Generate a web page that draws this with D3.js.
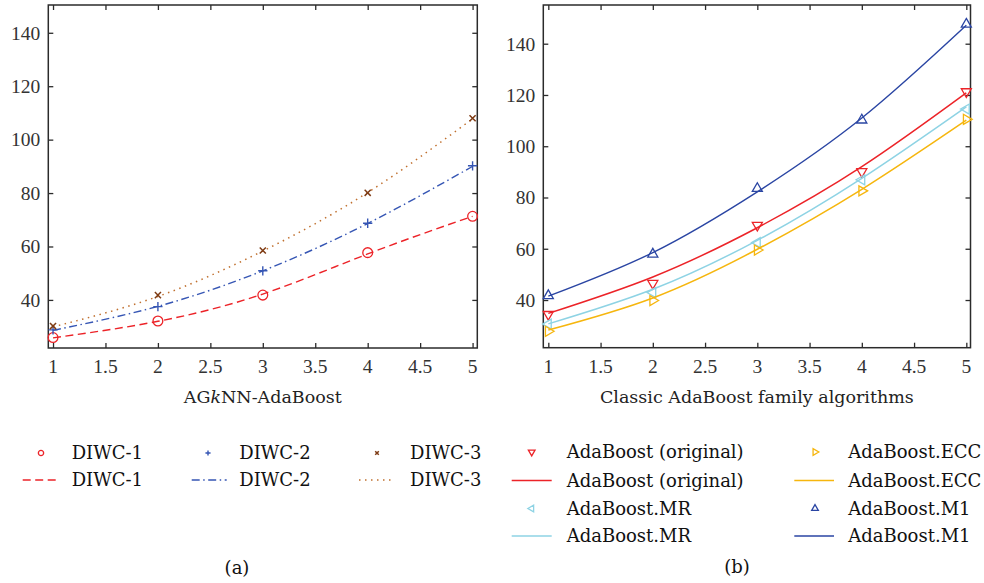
<!DOCTYPE html>
<html>
<head>
<meta charset="utf-8">
<script src="https://cdn.jsdelivr.net/npm/d3@7"></script>
<style>
  html, body { margin: 0; padding: 0; background: #fff; }
  svg { display: block; }
  .title { font-family: "DejaVu Serif", serif; font-size: 17.5px; fill: #222; }
  .legend { font-family: "DejaVu Serif", serif; font-size: 18px; fill: #111; }
</style>
</head>
<body>
<svg id="chart" width="984" height="583"></svg>
<script>
// x positions shared by both panels
const xs = [1, 2, 3, 4, 5];
const xTicks = [1, 1.5, 2, 2.5, 3, 3.5, 4, 4.5, 5];
const yTicks = [40, 60, 80, 100, 120, 140];

// Panel (a): AGkNN-AdaBoost, measured points and fitted curves
const diwc1 = [25.9, 32.1, 41.8, 57.7, 71.3];
const diwc2 = [28.8, 37.5, 50.9, 68.7, 90.2];
const diwc3 = [30.2, 41.8, 58.5, 80.1, 108.0];
const diwc1Fit = [25.8, 32.0, 42.2, 57.2, 71.3];
const diwc2Fit = [28.6, 37.6, 50.9, 68.6, 90.0];
const diwc3Fit = [29.9, 41.3, 58.3, 80.2, 107.8];

// Panel (b): classic AdaBoost family, measured points and fitted curves
const adaOrig = [34.4, 46.5, 69.2, 90.1, 121.3];
const adaMR   = [30.6, 42.9, 62.4, 86.9, 114.5];
const adaECC  = [27.8, 39.8, 59.5, 82.6, 110.5];
const adaM1   = [41.7, 57.9, 83.5, 110.2, 147.6];
const adaOrigFit = [34.8, 49.0, 68.2, 92.0, 120.8];
const adaMRFit   = [30.7, 44.2, 63.3, 87.5, 115.4];
const adaECCFit  = [28.3, 40.8, 59.8, 83.2, 110.2];
const adaM1Fit   = [41.5, 58.5, 82.2, 111.0, 147.2];

const svg = d3.select("#chart");

const C = {
  red: "#ec2328",
  blue2: "#3656b4",
  brown: "#7e3b14",
  brownLine: "#c0702f",
  navy: "#2a45a3",
  cyan: "#8ed3e4",
  gold: "#f6b60e"
};

const tri = d3.symbol().type(d3.symbolTriangle2);

function tickText(sel) {
  sel.style("font-family", "'Liberation Serif', serif")
     .style("font-size", "19.5px")
     .style("fill", "#333");
}

function panel(cfg) {
  const x = d3.scaleLinear().domain(cfg.xDomain).range([cfg.left, cfg.right]);
  const y = d3.scaleLinear().domain(cfg.yDomain).range([cfg.bottom, cfg.top]);
  const g = svg.append("g");
  const tickLen = 5;
  const frameColor = "#2b2b2b";
  const styleTicks = a => {
    a.select(".domain").remove();
    a.selectAll("line").attr("stroke", frameColor).attr("stroke-width", 1.3);
  };

  // inward ticks on all four sides
  g.append("g").attr("transform", `translate(0,${cfg.bottom})`)
    .call(d3.axisBottom(x).tickValues(xTicks).tickSize(-tickLen).tickFormat("")).call(styleTicks);
  g.append("g").attr("transform", `translate(0,${cfg.top})`)
    .call(d3.axisTop(x).tickValues(xTicks).tickSize(-tickLen).tickFormat("")).call(styleTicks);
  g.append("g").attr("transform", `translate(${cfg.left},0)`)
    .call(d3.axisLeft(y).tickValues(yTicks).tickSize(-tickLen).tickFormat("")).call(styleTicks);
  g.append("g").attr("transform", `translate(${cfg.right},0)`)
    .call(d3.axisRight(y).tickValues(yTicks).tickSize(-tickLen).tickFormat("")).call(styleTicks);

  // tick labels
  g.selectAll(".xl").data(xTicks).join("text")
    .attr("x", d => x(d)).attr("y", cfg.bottom + 18).attr("dy", "0.35em")
    .attr("text-anchor", "middle").text(d => d3.format("")(d))
    .call(tickText);
  g.selectAll(".yl").data(yTicks).join("text")
    .attr("x", cfg.left - 8).attr("y", d => y(d)).attr("dy", "0.35em")
    .attr("text-anchor", "end").text(d => d)
    .call(tickText);

  // frame
  g.append("rect")
    .attr("x", cfg.left).attr("y", cfg.top)
    .attr("width", cfg.right - cfg.left).attr("height", cfg.bottom - cfg.top)
    .attr("fill", "none").attr("stroke", frameColor).attr("stroke-width", 1.5);

  const line = d3.line().x((d, i) => x(xs[i])).y(d => y(d)).curve(d3.curveNatural);

  cfg.series.forEach(s => {
    g.append("path").datum(s.fit)
      .attr("d", line)
      .attr("fill", "none")
      .attr("stroke", s.lineColor)
      .attr("stroke-width", s.lineWidth)
      .attr("stroke-dasharray", s.dash || null);
    g.selectAll(null).data(s.values).join("path")
      .attr("transform", (d, i) => `translate(${x(xs[i])},${y(d)}) rotate(${s.rot || 0})`)
      .attr("d", s.symbol)
      .attr("fill", "none")
      .attr("stroke", s.color)
      .attr("stroke-width", s.markerWidth || 1.3);
  });

  // axis title
  const t = g.append("text").attr("class", "title")
    .attr("x", (cfg.left + cfg.right) / 2).attr("y", cfg.bottom + 49).attr("dy", "0.35em")
    .attr("text-anchor", "middle");
  cfg.title(t);
  return g;
}

const seriesA = [
  { values: diwc1, fit: diwc1Fit, color: C.red, lineColor: C.red, lineWidth: 1.4, dash: "8,4.5",
    symbol: d3.symbol().type(d3.symbolCircle).size(75)() },
  { values: diwc2, fit: diwc2Fit, color: C.blue2, lineColor: C.blue2, lineWidth: 1.4, dash: "8,3.5,1.5,3.5",
    symbol: d3.symbol().type(d3.symbolPlus).size(30)(), markerWidth: 1.4 },
  { values: diwc3, fit: diwc3Fit, color: C.brown, lineColor: C.brownLine, lineWidth: 1.5, dash: "1.5,4.5",
    symbol: d3.symbol().type(d3.symbolTimes).size(26)(), markerWidth: 1.5 }
];

panel({
  left: 48.3, right: 477.3, top: 5, bottom: 348,
  xDomain: [0.955, 5.045], yDomain: [22, 150.4],
  series: seriesA,
  title: t => {
    t.append("tspan").text("AG");
    t.append("tspan").attr("font-style", "italic").text("k");
    t.append("tspan").text("NN-AdaBoost");
  }
});

const seriesB = [
  { values: adaM1, fit: adaM1Fit, color: C.navy, lineColor: C.navy, lineWidth: 1.4,
    symbol: tri.size(72)(), rot: 0 },
  { values: adaOrig, fit: adaOrigFit, color: C.red, lineColor: C.red, lineWidth: 1.5,
    symbol: tri.size(72)(), rot: 180 },
  { values: adaMR, fit: adaMRFit, color: C.cyan, lineColor: C.cyan, lineWidth: 1.5,
    symbol: tri.size(72)(), rot: -90 },
  { values: adaECC, fit: adaECCFit, color: C.gold, lineColor: C.gold, lineWidth: 1.5,
    symbol: tri.size(72)(), rot: 90 }
];

panel({
  left: 543.3, right: 970.5, top: 5, bottom: 347.7,
  xDomain: [0.952, 5.04], yDomain: [21.4, 155.1],
  series: seriesB,
  title: t => t.text("Classic AdaBoost family algorithms")
});

// Legends
const lg = svg.append("g");

function legendMarker(cx, cy, pathD, color, rot, width) {
  lg.append("path").attr("d", pathD)
    .attr("transform", `translate(${cx},${cy}) rotate(${rot || 0})`)
    .attr("fill", "none").attr("stroke", color).attr("stroke-width", width || 1.3);
}
function legendLine(x1, x2, cy, color, dash, width) {
  lg.append("line").attr("x1", x1).attr("x2", x2).attr("y1", cy).attr("y2", cy)
    .attr("stroke", color).attr("stroke-width", width || 1.5)
    .attr("stroke-dasharray", dash || null);
}
function legendText(x, cy, str) {
  lg.append("text").attr("class", "legend").attr("x", x).attr("y", cy).attr("dy", "0.35em").text(str);
}

const namesA = ["DIWC-1", "DIWC-2", "DIWC-3"];
const legAx = [[41, 22.7, 58.3, 71.7], [208, 191.7, 226.7, 239.3], [377, 359, 395, 410]];
const legAy = [453, 480];
const legMarkA = [
  d3.symbol().type(d3.symbolCircle).size(22)(),
  d3.symbol().type(d3.symbolPlus).size(10)(),
  d3.symbol().type(d3.symbolTimes).size(10)()
];
seriesA.forEach((s, i) => {
  const [mx, l1, l2, tx] = legAx[i];
  legendMarker(mx, legAy[0], legMarkA[i], s.color, 0, s.markerWidth);
  legendText(tx, legAy[0], namesA[i]);
  legendLine(l1, l2, legAy[1], s.lineColor, s.dash, s.lineWidth);
  legendText(tx, legAy[1], namesA[i]);
});

const namesB = ["AdaBoost (original)", "AdaBoost.MR", "AdaBoost.ECC", "AdaBoost.M1"];
const legBorder = [1, 2, 3, 0]; // index into seriesB
const legBcol = [[531.7, 511.7, 551.7, 566.7], [815, 794.3, 834, 848.3]];
const legBy = [452, 480.5, 508.5, 536];
const triSmall = d3.symbol().type(d3.symbolTriangle2).size(32)();
namesB.forEach((name, k) => {
  const s = seriesB[legBorder[k]];
  const [mx, l1, l2, tx] = legBcol[Math.floor(k / 2)];
  const r0 = (k % 2) * 2;
  legendMarker(mx, legBy[r0], triSmall, s.color, s.rot, 1.3);
  legendText(tx, legBy[r0], name);
  legendLine(l1, l2, legBy[r0 + 1], s.lineColor, null, 1.6);
  legendText(tx, legBy[r0 + 1], name);
});

// sub-figure captions
svg.append("text").attr("class", "legend").attr("x", 237).attr("y", 568).attr("dy", "0.35em")
  .attr("text-anchor", "middle").text("(a)");
svg.append("text").attr("class", "legend").attr("x", 737).attr("y", 567).attr("dy", "0.35em")
  .attr("text-anchor", "middle").text("(b)");
</script>
</body>
</html>
